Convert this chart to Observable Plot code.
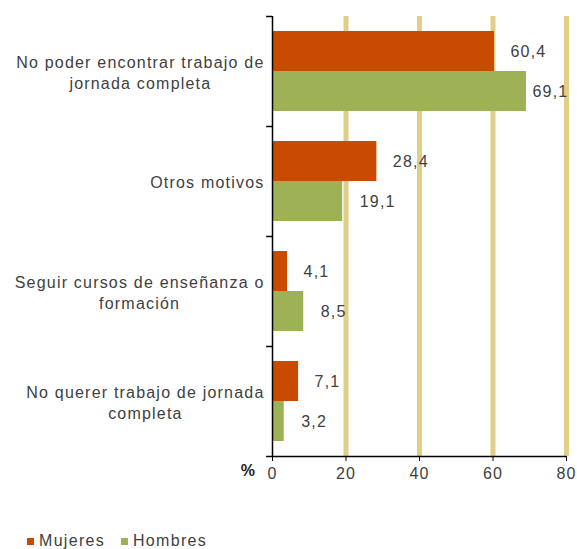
<!DOCTYPE html>
<html>
<head>
<meta charset="utf-8">
<script src="https://cdn.jsdelivr.net/npm/d3@7"></script>
<script src="https://cdn.jsdelivr.net/npm/@observablehq/plot@0.6"></script>
<style>
  body { margin: 0; background: #fff; font-family: "Liberation Sans", Arial, sans-serif; }
  #legend { height: 21px; line-height: 21px; font-size: 16px; color: #404040; letter-spacing: 1.3px; padding-left: 27px; padding-top: 2px; }
  #legend span.sw { display: inline-block; width: 7px; height: 7px; margin-right: 5px; vertical-align: 1px; }
  #legend span.item { margin-right: 16px; }
</style>
</head>
<body>
<div id="chart"></div>
<div id="legend"></div>
<script>
const categories = [
  "No poder encontrar trabajo de\njornada completa",
  "Otros motivos",
  "Seguir cursos de enseñanza o\nformación",
  "No querer trabajo de jornada\ncompleta"
];
const mujeres = [60.4, 28.4, 4.1, 7.1];
const hombres = [69.1, 19.1, 8.5, 3.2];
const seriesNames = ["Mujeres", "Hombres"];
const seriesColors = ["#c84b00", "#9db155"];
const xTicks = [0, 20, 40, 60, 80];
const gridTicks = [20, 40, 60, 80];

const W = 577, H = 528, mt = 16, mb = 72, ml = 272, mr = 11;
const band = (H - mt - mb) / categories.length;

const dataM = categories.map((c, i) => ({cat: c, value: mujeres[i], serie: seriesNames[0]}));
const dataH = categories.map((c, i) => ({cat: c, value: hombres[i], serie: seriesNames[1]}));
const fmt = v => v.toFixed(1).replace(".", ",");
const textColor = "#404040";

const plot = Plot.plot({
  width: W, height: H,
  marginTop: mt, marginBottom: mb, marginLeft: ml, marginRight: mr,
  style: {fontFamily: '"Liberation Sans", Arial, sans-serif', fontSize: "16px", letterSpacing: "1.2px", color: textColor, background: "#fff"},
  x: {domain: [0, 80]},
  y: {domain: categories, padding: 0},
  marks: [
    Plot.ruleX(gridTicks, {stroke: "#e2cf86", strokeWidth: 5}),
    Plot.barX(dataM, {x: "value", y: "cat", fill: seriesColors[0], insetTop: 15, insetBottom: band - 55}),
    Plot.barX(dataH, {x: "value", y: "cat", fill: seriesColors[1], insetTop: 55, insetBottom: band - 95}),
    Plot.text(dataM, {x: "value", y: "cat", text: d => fmt(d.value), dy: -20, dx: 16, textAnchor: "start", fill: textColor}),
    Plot.text(dataH.filter(d => d.value < 65), {x: "value", y: "cat", text: d => fmt(d.value), dy: 20, dx: 17, textAnchor: "start", fill: textColor}),
    Plot.text(dataH.filter(d => d.value >= 65), {x: "value", y: "cat", text: d => fmt(d.value), dy: 20, dx: 6, textAnchor: "start", fill: textColor}),
    Plot.ruleX([0], {stroke: "#000", strokeWidth: 1.5}),
    Plot.ruleY([categories[categories.length - 1]], {x1: 0, x2: 80, dy: band / 2, stroke: "#000", strokeWidth: 1.5}),
    Plot.ruleY(categories, {x1: -1.6, x2: 0, dy: -band / 2, stroke: "#000", strokeWidth: 1.5}),
    Plot.ruleY([categories[categories.length - 1]], {x1: -1.6, x2: 0, dy: band / 2, stroke: "#000", strokeWidth: 1.5}),
    Plot.axisX({ticks: xTicks, tickSize: 5, tickPadding: 6, tickFormat: d => String(d), label: null, stroke: "#000", fill: textColor}),
    Plot.axisY({tickSize: 0, tickPadding: 8, label: null, lineHeight: 1.35, fill: textColor}),
    Plot.text(["%"], {frameAnchor: "bottom-left", textAnchor: "middle", dx: -24, dy: 19, fill: "#222", fontWeight: "bold"})
  ]
});
document.getElementById("chart").appendChild(plot);

// center-align multi-line category labels, right edge kept at axis padding
d3.select(plot).selectAll('g[aria-label="y-axis tick label"] text').each(function() {
  const tspans = d3.select(this).selectAll("tspan");
  if (tspans.size() < 2) return;
  let maxW = 0;
  tspans.each(function() { maxW = Math.max(maxW, this.getComputedTextLength()); });
  d3.select(this).attr("text-anchor", "middle");
  tspans.attr("x", -maxW / 2);
});

const legend = document.getElementById("legend");
legend.innerHTML = seriesNames.map((n, i) =>
  `<span class="item"><span class="sw" style="background:${seriesColors[i]}"></span>${n}</span>`).join("");
</script>
</body>
</html>
